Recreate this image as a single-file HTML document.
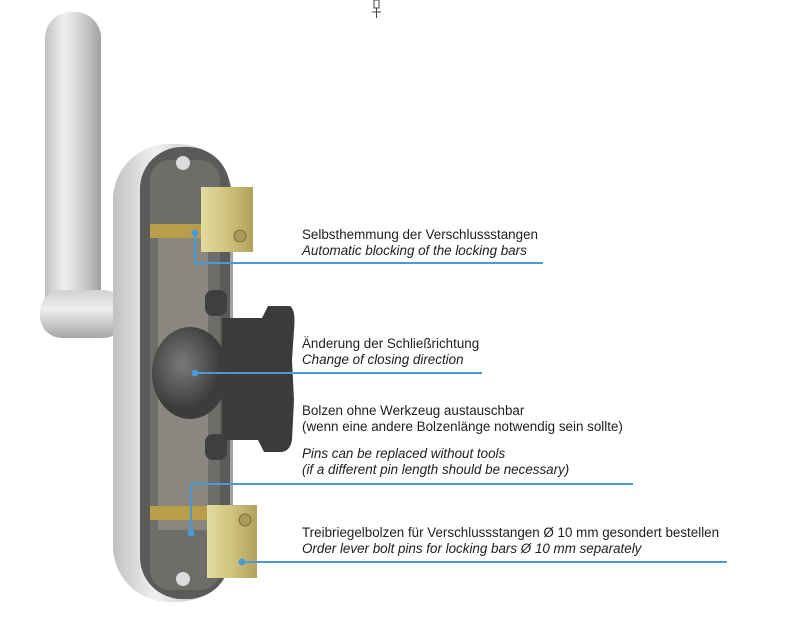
<!DOCTYPE html>
<html><head><meta charset="utf-8"><style>
html,body{margin:0;padding:0;background:#fff;}
body{width:800px;height:622px;position:relative;overflow:hidden;font-family:"Liberation Sans",sans-serif;}
.t{position:absolute;left:302px;font-size:13.4px;color:#1e1e1e;white-space:nowrap;line-height:16px;}
.i{font-style:italic;}
</style></head><body>
<svg width="800" height="622" style="position:absolute;left:0;top:0">
<defs>
<linearGradient id="al" x1="0" x2="1"><stop offset="0" stop-color="#bfc1c3"/><stop offset="0.35" stop-color="#eef0f1"/><stop offset="0.7" stop-color="#c9cbcd"/><stop offset="1" stop-color="#9ea0a2"/></linearGradient>
<linearGradient id="alv" x1="0" y1="0" x2="0" y2="1"><stop offset="0" stop-color="#cfd1d3"/><stop offset="0.4" stop-color="#eceeef"/><stop offset="1" stop-color="#a4a6a8"/></linearGradient>
<linearGradient id="br" x1="0" x2="1"><stop offset="0" stop-color="#e3dca0"/><stop offset="0.5" stop-color="#cfc37d"/><stop offset="1" stop-color="#b0a25c"/></linearGradient>
<radialGradient id="kn" cx="0.4" cy="0.4"><stop offset="0" stop-color="#7a7a78"/><stop offset="1" stop-color="#3c3c3b"/></radialGradient>
</defs>
<rect x="45" y="12" width="56" height="320" rx="26" fill="url(#al)"/>
<rect x="40" y="290" width="85" height="48" rx="22" fill="url(#alv)"/>
<rect x="113" y="144" width="120" height="458" rx="56" fill="url(#al)"/>
<rect x="140" y="147" width="90" height="452" rx="42" fill="#5a5a58"/>
<rect x="150" y="160" width="70" height="430" rx="20" fill="#6e6d69"/>
<rect x="158" y="230" width="50" height="300" fill="#8a8780"/>
<circle cx="183" cy="163" r="7" fill="#d9dbdd"/><circle cx="183" cy="579" r="7" fill="#d9dbdd"/>
<rect x="150" y="224" width="60" height="14" fill="#b89e4a"/>
<rect x="150" y="506" width="65" height="14" fill="#b89e4a"/>
<rect x="201" y="187" width="52" height="65" fill="url(#br)"/>
<circle cx="240" cy="236" r="6" fill="#a89a58" stroke="#7a6c35"/>
<rect x="207" y="505" width="50" height="73" fill="url(#br)"/>
<circle cx="245" cy="520" r="6" fill="#a89a58" stroke="#7a6c35"/>
<path d="M222 318 L262 318 L268 306 L290 306 Q296 310 294 330 L292 360 L294 400 L292 440 Q290 452 280 452 L264 452 L258 440 L222 440 Z" fill="#3b3b3a"/>
<rect x="205" y="290" width="22" height="26" rx="8" fill="#3f3f3f"/>
<rect x="205" y="434" width="22" height="26" rx="8" fill="#3f3f3f"/>
<ellipse cx="190" cy="373" rx="38" ry="46" fill="url(#kn)"/>
<g stroke="#4a9ad8" stroke-width="2" fill="none">
<polyline points="195,233 195,263 543,263"/>
<polyline points="195,373 482,373"/>
<polyline points="191,533 191,484 633,484"/>
<polyline points="242,562 727,562"/>
</g>
<g fill="#4a9ad8"><circle cx="195" cy="233" r="3.5"/><circle cx="195" cy="373" r="3.5"/><circle cx="191" cy="533" r="3.5"/><circle cx="242" cy="562" r="3.5"/></g>
<g stroke="#444" stroke-width="1" fill="none"><rect x="374" y="0" width="5" height="8"/><line x1="376.5" y1="8" x2="376.5" y2="18"/><line x1="372" y1="12" x2="381" y2="12"/></g>
</svg>
<div class="t" style="top:227px">Selbsthemmung der Verschlussstangen</div>
<div class="t i" style="top:243px">Automatic blocking of the locking bars</div>
<div class="t" style="top:336px">Änderung der Schließrichtung</div>
<div class="t i" style="top:352px">Change of closing direction</div>
<div class="t" style="top:403px">Bolzen ohne Werkzeug austauschbar</div>
<div class="t" style="top:419px">(wenn eine andere Bolzenlänge notwendig sein sollte)</div>
<div class="t i" style="top:446px">Pins can be replaced without tools</div>
<div class="t i" style="top:462px">(if a different pin length should be necessary)</div>
<div class="t" style="top:525px">Treibriegelbolzen für Verschlussstangen Ø 10 mm gesondert bestellen</div>
<div class="t i" style="top:541px">Order lever bolt pins for locking bars Ø 10 mm separately</div>
</body></html>
